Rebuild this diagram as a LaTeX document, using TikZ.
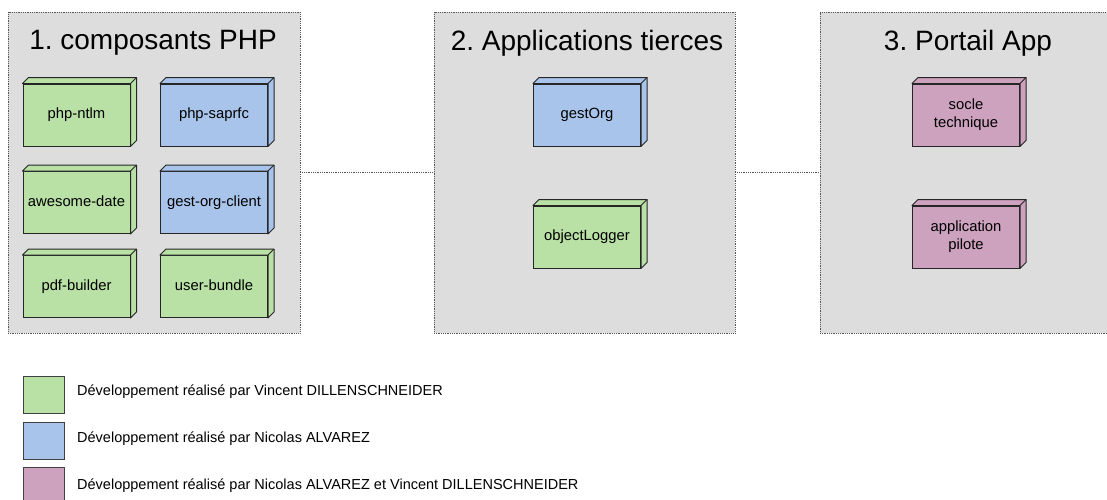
\documentclass[tikz,border=0pt]{standalone}
\usepackage{fontspec}
\setmainfont{Liberation Sans}
\frenchspacing
\definecolor{cgreen}{HTML}{B9E0A5}
\definecolor{cblue}{HTML}{A9C4EB}
\definecolor{cpink}{HTML}{CDA2BE}
\definecolor{cgray}{HTML}{DDDDDD}
\definecolor{cborder}{HTML}{555555}
\begin{document}
\begin{tikzpicture}[x=1pt,y=-1pt,
  container/.style={draw=cborder, fill=cgray, densely dotted, line width=0.8pt, inner sep=0pt},
  title/.style={font=\fontsize{28}{31}\selectfont, inner sep=0pt},
  link/.style={draw=cborder, densely dotted, line width=0.8pt},
  comp/.style={draw=black!85, line width=1pt, minimum width=107pt, minimum height=62pt, inner sep=1pt,
     align=center, font=\fontsize{14.8}{18}\selectfont, fill=#1},
  oneline/.style={text height=10.5pt, text depth=3pt},
  side/.style={draw=black!85, line width=1pt, line join=round, fill=#1},
  swatch/.style={draw=black!75, line width=1pt, fill=#1, minimum width=41pt, minimum height=37pt, inner sep=0pt},
  legtext/.style={anchor=west, font=\fontsize{14.5}{17}\selectfont, inner sep=0pt}
]
\clip (0,0) rectangle (1107,499);
\fill[white] (0,0) rectangle (1107,499);

% containers
\node[container, minimum width=292pt, minimum height=321pt] (c1) at (154,172.5) {};
\node[container, minimum width=301pt, minimum height=321pt] (c2) at (584.5,172.5) {};
\node[container, minimum width=300pt, minimum height=321pt] (c3) at (970,172.5) {};

\node[title] (t1) at (153,43) {1. composants PHP};
\node[title] (t2) at (587,43) {2. Applications tierces};
\node[title] (t3) at (968,43) {3. Portail App};

% connectors
\draw[link] (c1.east) -- (c2.west);
\draw[link] (c2.east) -- (c3.west);

% components
\node[comp=cgreen, oneline] (ntlm) at (76.5,115) {php-ntlm};
\node[comp=cblue, oneline] (saprfc) at (214,115) {php-saprfc};
\node[comp=cgreen, oneline] (awesome) at (76.5,202.5) {awesome-date};
\node[comp=cblue, oneline] (gestclient) at (214,202.5) {gest-org-client};
\node[comp=cgreen, oneline] (pdf) at (76.5,286.5) {pdf-builder};
\node[comp=cgreen, oneline] (userb) at (214,286.5) {user-bundle};

\node[comp=cblue, oneline] (gestorg) at (587,115) {gestOrg};
\node[comp=cgreen, oneline] (objlog) at (587,237) {objectLogger};

\node[comp=cpink] (socle) at (966,115) {socle\\technique};
\node[comp=cpink] (pilote) at (966,237) {application\\pilote};

\foreach \n/\c in {ntlm/cgreen, saprfc/cblue, awesome/cgreen, gestclient/cblue, pdf/cgreen, userb/cgreen, gestorg/cblue, objlog/cgreen, socle/cpink, pilote/cpink}{
  \draw[side=\c] (\n.north west) -- ([xshift=6pt,yshift=6pt]\n.north west) -- ([xshift=6pt,yshift=6pt]\n.north east) -- ([xshift=6pt,yshift=6pt]\n.south east) -- (\n.south east) -- (\n.north east) -- cycle;
  \draw[side=\c, fill=none] (\n.north east) -- ([xshift=6pt,yshift=6pt]\n.north east);
}

% legend
\node[swatch=cgreen] (s1) at (43.5,394.5) {};
\node[swatch=cblue] (s2) at (43.5,441) {};
\node[swatch=cpink] (s3) at (43.5,485.5) {};
\node[legtext] (l1) at (77,392) {Développement réalisé par Vincent DILLENSCHNEIDER};
\node[legtext] (l2) at (77,439) {Développement réalisé par Nicolas ALVAREZ};
\node[legtext] (l3) at (77,486) {Développement réalisé par Nicolas ALVAREZ et Vincent DILLENSCHNEIDER};
\end{tikzpicture}
\end{document}
